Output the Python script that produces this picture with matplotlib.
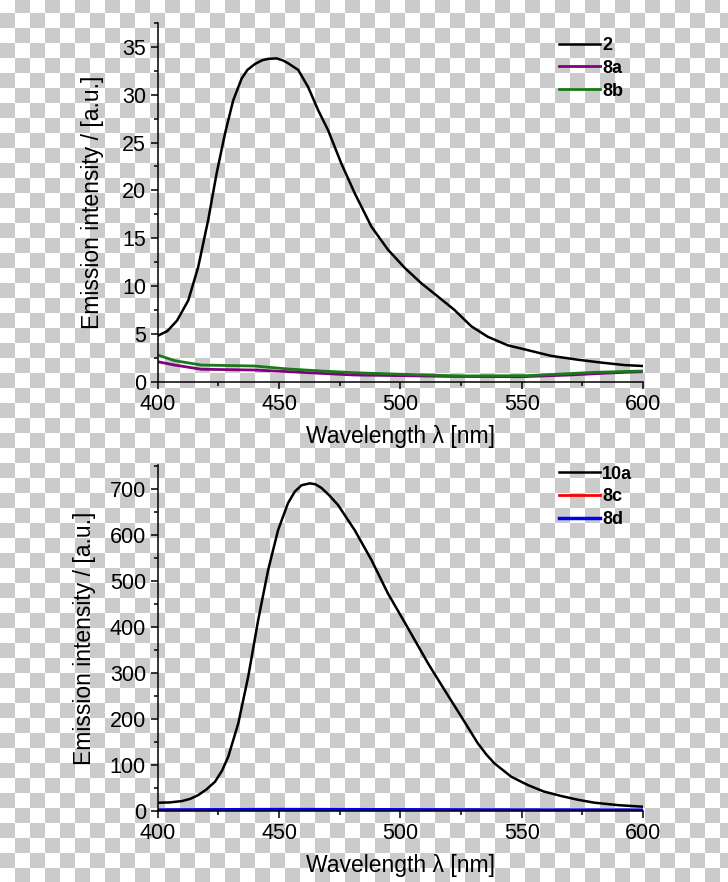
import numpy as np
import matplotlib
matplotlib.use('Agg')
import matplotlib.pyplot as plt
from matplotlib.ticker import MultipleLocator

plt.rcParams['font.family'] = ['Liberation Sans', 'DejaVu Sans']

# ── Top panel: compounds 2, 8a, 8b ───────────────────────────────────────────
wl_2 = [400, 404, 408, 412.6, 416.7, 420.8, 424.3, 427.7, 431.1, 434.6, 437, 440,
        443, 445.5, 449, 451.5, 453.7, 457.9, 462, 466.1, 470.2, 475.7, 481.2,
        488.1, 494.9, 501.8, 508.6, 515, 522.3, 529.2, 536, 544.3, 552.5, 562.1,
        573.1, 582.7, 592.3, 600]
em_2 = [4.8, 5.3, 6.4, 8.5, 12.0, 16.9, 21.8, 25.9, 29.4, 31.7, 32.6, 33.2,
        33.6, 33.75, 33.8, 33.6, 33.3, 32.6, 30.8, 28.4, 26.3, 22.8, 19.7,
        16.2, 13.8, 11.9, 10.3, 9.0, 7.5, 5.8, 4.7, 3.8, 3.3, 2.7,
        2.3, 2.0, 1.74, 1.64]

wl_8a = [400, 407, 418, 440, 453.7, 467.5, 481, 502, 520, 550, 570, 585, 600]
em_8a = [2.09, 1.74, 1.3, 1.22, 1.05, 0.87, 0.7, 0.63, 0.55, 0.52, 0.7, 0.9, 1.05]

wl_8b = [400, 407, 418, 440, 453.7, 467.5, 481, 497.7, 525, 552, 566, 580, 600]
em_8b = [2.79, 2.2, 1.74, 1.64, 1.33, 1.12, 0.94, 0.8, 0.6, 0.63, 0.8, 0.98, 1.12]

# ── Bottom panel: compounds 10a, 8c, 8d ──────────────────────────────────────
wl_10a = [400, 405, 410, 413.5, 416.7, 420, 423.6, 426.5, 429.1, 433.2, 437.3,
          441.4, 445.5, 449.6, 453.7, 456.5, 459.3, 462.7, 465, 467.5, 470.5,
          474.3, 481.2, 488.1, 494.9, 501.8, 511.4, 518.2, 525.1, 531.9, 535.5,
          538.8, 545.7, 552.5, 559, 566.3, 573, 580, 590, 600]
em_10a = [17.4, 18, 21, 26, 34, 46, 63, 87, 118, 190, 292,
          415, 524, 611, 670, 695, 709, 713, 711, 703, 688,
          666, 611, 546, 473, 410, 321, 263, 205, 147, 122,
          103, 74, 56, 42, 32, 24, 17.4, 12, 8.7]

wl_8c = [400, 450, 500, 550, 600]
em_8c = [1.0, 1.2, 1.0, 0.8, 0.8]

wl_8d = [400, 450, 500, 550, 600]
em_8d = [1.5, 2.5, 2.0, 1.5, 1.2]

# ── Transparent-looking checkerboard background ──────────────────────────────
W, H = 728, 882
yy, xx = np.mgrid[0:H, 0:W]
odd = ((xx // 15) + ((yy + 2) // 15)) % 2 == 1
bg = np.where(odd, 203, 255).astype(np.uint8)
bg = np.dstack([bg, bg, bg])

fig = plt.figure(figsize=(W / 100, H / 100), dpi=100)
bg_ax = fig.add_axes([0, 0, 1, 1], zorder=-10)
bg_ax.imshow(bg, aspect='auto', interpolation='nearest')
bg_ax.axis('off')

L, R = 157.7 / W, 643 / W
ax1 = fig.add_axes([L, 1 - 381.7 / H, R - L, (381.7 - 23) / H])
ax2 = fig.add_axes([L, 1 - 810.7 / H, R - L, (810.7 - 465) / H])


def style(ax, ymax, ymaj, ymin, ypad):
    ax.set_facecolor('none')
    ax.set_xlim(400, 600)
    ax.set_ylim(0, ymax)
    for s in ('top', 'right'):
        ax.spines[s].set_visible(False)
    for s in ('left', 'bottom'):
        ax.spines[s].set_linewidth(1.1)
    ax.xaxis.set_major_locator(MultipleLocator(50))
    ax.xaxis.set_minor_locator(MultipleLocator(25))
    ax.yaxis.set_major_locator(MultipleLocator(ymaj))
    ax.yaxis.set_minor_locator(MultipleLocator(ymin))
    ax.tick_params(which='major', direction='out', length=5, width=1.1,
                   labelsize=15.5, pad=3.5)
    ax.tick_params(which='minor', direction='out', length=3, width=1.1)
    ax.set_xlabel('Wavelength λ [nm]', fontsize=16.5, labelpad=7.5)
    ax.set_ylabel('Emission intensity / [a.u.]', fontsize=16.5, labelpad=ypad)


style(ax1, 37.5, 5, 2.5, 13)
ax1.plot(wl_2, em_2, color='black', lw=1.8, label='2')
ax1.plot(wl_8a, em_8a, color='#800080', lw=2.0, label='8a')
ax1.plot(wl_8b, em_8b, color='#1a7a1a', lw=2.0, label='8b')

style(ax2, 753, 100, 50, 10)
ax2.plot(wl_10a, em_10a, color='black', lw=1.8, label='10a')
ax2.plot(wl_8c, em_8c, color='#ff0000', lw=2.0, label='8c')
ax2.plot(wl_8d, em_8d, color='#0000ee', lw=2.5, label='8d')

for ax, ytop in ((ax1, 0.961), (ax2, 0.998)):
    ax.legend(loc='upper left', bbox_to_anchor=(0.826, ytop), frameon=False,
              prop={'weight': 'bold', 'size': 13}, handlelength=2.3,
              handletextpad=0.12, labelspacing=0.32, borderpad=0,
              borderaxespad=0)

fig.savefig('out.png', dpi=100)
